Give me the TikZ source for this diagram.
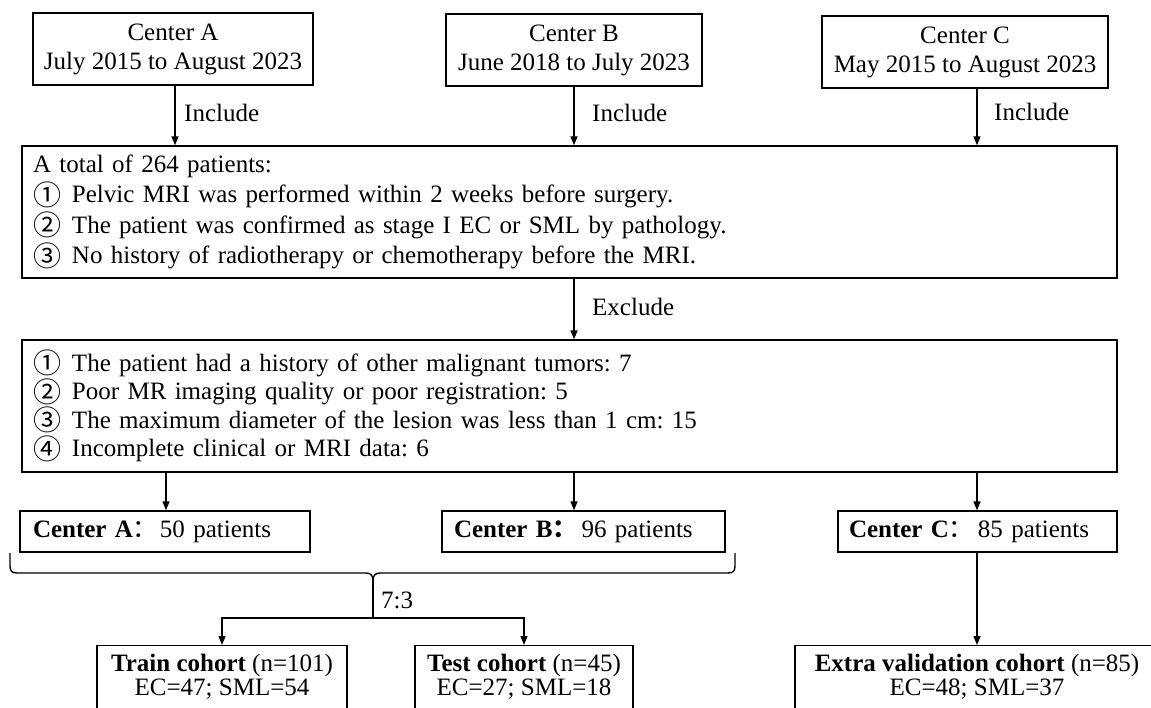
\documentclass[tikz,border=0pt]{standalone}
\usepackage{fontspec}
\setmainfont{Liberation Serif}
\newfontfamily\cjk{Noto Sans CJK SC}
\usetikzlibrary{arrows.meta}
\frenchspacing
\newcommand\fs{\fontsize{25}{29}\selectfont}
\newcommand\ci[1]{\makebox[39pt][l]{\raisebox{-2.2pt}{\cjk\fontsize{28}{28}\selectfont #1}}}
\tikzset{
  box/.style={draw, line width=1.4pt, inner sep=0pt, font=\fs},
  arr/.style={-{Triangle[length=9pt,width=7pt]}, line width=1.4pt},
  lbl/.style={anchor=west, inner sep=0pt, font=\fs},
}
\begin{document}
\begin{tikzpicture}[x=1pt,y=-1pt]
\clip (0,0) rectangle (1151,708);
\fill[white] (0,0) rectangle (1151,708);
% columns
\coordinate (xa) at (175,0);
\coordinate (xb) at (574,0);
\coordinate (xc) at (977,0);
\coordinate (xa2) at (166,0);
% top boxes
\node[box, minimum width=280pt, minimum height=72pt, align=center] (A) at (173,49) {Center A\\July 2015 to August 2023};
\node[box, minimum width=256pt, minimum height=72pt, align=center] (B) at (574,50) {Center B\\June 2018 to July 2023};
\node[box, minimum width=286pt, minimum height=72pt, align=center] (C) at (965,52) {Center C\\May 2015 to August 2023};
% main box
\node[box, minimum width=1095pt, minimum height=132pt, text width=1073pt, inner xsep=11pt, align=left,
      font=\fontsize{25}{30.5}\selectfont] (main) at (569.5,212)
 {A total of 264 patients:\\
  \ci{①}Pelvic MRI was performed within 2 weeks before surgery.\\
  \ci{②}The patient was confirmed as stage I EC or SML by pathology.\\
  \ci{③}No history of radiotherapy or chemotherapy before the MRI.};
% exclusion box
\node[box, minimum width=1095pt, minimum height=132pt, text width=1073pt, inner xsep=11pt, align=left,
      font=\fontsize{25}{28.5}\selectfont] (excl) at (569.5,406)
 {\ci{①}The patient had a history of other malignant tumors: 7\\
  \ci{②}Poor MR imaging quality or poor registration: 5\\
  \ci{③}The maximum diameter of the lesion was less than 1 cm: 15\\
  \ci{④}Incomplete clinical or MRI data: 6};
% include / exclude arrows
\draw[arr] (A.south -| xa) -- (main.north -| xa);
\draw[arr] (B.south -| xb) -- (main.north -| xb);
\draw[arr] (C.south -| xc) -- (main.north -| xc);
\node[lbl] (incA) at (184,113) {Include};
\node[lbl] (incB) at (592,113) {Include};
\node[lbl] (incC) at (994,112) {Include};
\draw[arr] (main.south -| xb) -- (excl.north -| xb);
\node[lbl] (exc) at (592,307) {Exclude};
% center boxes
\node[box, minimum width=290pt, minimum height=41pt, text width=264pt, inner xsep=13pt, align=left] (ca) at (165,531.5)
 {\textbf{Center A}{\cjk ：}\hspace{2pt}50 patients};
\node[box, minimum width=283pt, minimum height=41pt, text width=259pt, inner xsep=12pt, align=left] (cb) at (583.5,531.5)
 {\textbf{Center B}{\cjk\bfseries ：}\hspace{4pt}96 patients};
\node[box, minimum width=279pt, minimum height=41pt, text width=257pt, inner xsep=11pt, align=left] (cc) at (977.5,531.5)
 {\textbf{Center C}{\cjk ：}\hspace{4pt}85 patients};
\draw[arr] (excl.south -| xa2) -- (ca.north -| xa2);
\draw[arr] (excl.south -| xb) -- (cb.north -| xb);
\draw[arr] (excl.south -| xc) -- (cc.north -| xc);
% brace
\coordinate (bl) at (10,553);
\coordinate (br) at (735,553);
\coordinate (tip) at (373,580);
\coordinate (split) at (373,618);
\draw[line width=1.4pt] (bl) -- (10,566) .. controls (10,571) and (12,573) .. (17,573) -- (366,573)
  .. controls (371,573) and (373,576) .. (tip) .. controls (373,576) and (375,573) .. (380,573)
  -- (728,573) .. controls (733,573) and (735,571) .. (735,566) -- (br);
\draw[line width=1.4pt] (tip) -- (split);
\node[lbl] (ratio) at (381,600) {7:3};
% bottom boxes
\node[box, anchor=north, minimum width=250pt, align=center, inner ysep=8pt, font=\fontsize{25}{24}\selectfont] (train) at (222,645)
 {\textbf{Train cohort} (n=101)\\EC=47; SML=54\\[30pt]~};
\node[box, anchor=north, minimum width=218pt, align=center, inner ysep=8pt, font=\fontsize{25}{24}\selectfont] (test) at (524,645)
 {\textbf{Test cohort} (n=45)\\EC=27; SML=18\\[30pt]~};
\node[box, anchor=north, minimum width=364pt, align=center, inner ysep=8pt, font=\fontsize{25}{24}\selectfont] (extra) at (977,645)
 {\textbf{Extra validation cohort} (n=85)\\EC=48; SML=37\\[30pt]~};
\draw[arr] (split) -| (train.north);
\draw[arr] (split) -| (test.north);
\draw[arr] (cc.south -| xc) -- (extra.north -| xc);
\end{tikzpicture}
\end{document}
